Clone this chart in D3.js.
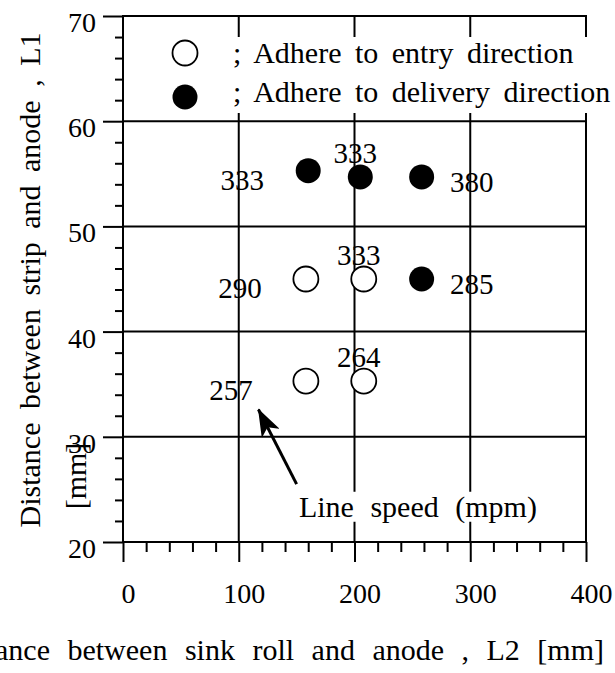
<!DOCTYPE html>
<html>
<head>
<meta charset="utf-8">
<script src="https://cdn.jsdelivr.net/npm/d3@7"></script>
<style>
  body { margin: 0; background: #fff; }
  svg { display: block; font-family: "Liberation Serif", "Times New Roman", serif; }
</style>
</head>
<body>
<svg id="chart" width="615" height="673"></svg>
<script>
// tick values
const xMajor = [0, 100, 200, 300, 400];
const xMinor = [20, 40, 60, 80, 120, 140, 160, 180, 220, 240, 260, 280, 320, 340, 360, 380];
const yMajor = [20, 30, 40, 50, 60, 70];
const yMinor = [22, 24, 26, 28, 32, 34, 36, 38, 42, 44, 46, 48, 52, 54, 56, 58, 62, 64, 66, 68];

// open circles: adhere to entry direction
const openL2 = [158, 208, 158, 208];
const openL1 = [45, 45, 35.3, 35.3];
const openSpeed = [290, 333, 257, 264];
const openSide = ["left", "top", "farleft", "top"];

// filled circles: adhere to delivery direction
const filledL2 = [160, 205, 258, 258];
const filledL1 = [55.3, 54.7, 54.7, 45];
const filledSpeed = [333, 333, 380, 285];
const filledSide = ["left", "top", "right", "right"];

// annotation arrow (data coords)
const arrowFrom = [150, 25.5];
const arrowTo = [117, 32.6];
const arrowTextAt = [152, 22.4];

const svg = d3.select("#chart");

let x = d3.scaleLinear().domain([0, 400]).range([123, 586]);
let y = d3.scaleLinear().domain([20, 70]).range([542, 16]);

// grid lines
svg.append("g").selectAll("line")
    .data([100, 200, 300])
    .join("line")
    .attr("x1", d => x(d)).attr("x2", d => x(d))
    .attr("y1", y(70)).attr("y2", y(20))
    .attr("stroke", "#000").attr("stroke-width", 2);
svg.append("g").selectAll("line")
    .data([30, 40, 50, 60])
    .join("line")
    .attr("x1", x(0)).attr("x2", x(400))
    .attr("y1", d => y(d)).attr("y2", d => y(d))
    .attr("stroke", "#000").attr("stroke-width", 2);

// frame
svg.append("rect")
    .attr("x", x(0)).attr("y", y(70))
    .attr("width", x(400) - x(0)).attr("height", y(20) - y(70))
    .attr("fill", "none").attr("stroke", "#000").attr("stroke-width", 2);

// axes
let yMinorAxis = svg.append("g")
    .attr("transform", `translate(${x(0)},0)`)
    .call(d3.axisLeft(y).tickValues(yMinor).tickSize(8).tickSizeOuter(0).tickFormat(""));
let yAxis = svg.append("g")
    .attr("transform", `translate(${x(0)},0)`)
    .call(d3.axisLeft(y).tickValues(yMajor).tickSize(20).tickSizeOuter(0).tickPadding(7).tickFormat(d3.format("d")));
let xMinorAxis = svg.append("g")
    .attr("transform", `translate(0,${y(20)})`)
    .call(d3.axisBottom(x).tickValues(xMinor).tickSize(10).tickSizeOuter(0).tickFormat(""));
let xAxis = svg.append("g")
    .attr("transform", `translate(0,${y(20)})`)
    .call(d3.axisBottom(x).tickValues(xMajor).tickSize(20).tickSizeOuter(0).tickPadding(21).tickFormat(d3.format("d")));

[yMinorAxis, yAxis, xMinorAxis, xAxis].forEach(a => {
    a.select(".domain").remove();
    a.selectAll("line").attr("stroke", "#000").attr("stroke-width", 2);
    a.selectAll("text")
        .attr("fill", "#000")
        .style("font-family", "Liberation Serif, serif")
        .style("font-size", "28px");
});
yAxis.selectAll("text").attr("dy", "0.55em");
xAxis.selectAll("text").attr("dx", "5");

// axis titles
svg.append("text")
    .attr("transform", "translate(40,280) rotate(-90)")
    .attr("text-anchor", "middle")
    .style("font-size", "30px").style("word-spacing", "6px")
    .text("Distance between strip and anode , L1");
svg.append("text")
    .attr("transform", "translate(86,476) rotate(-90)")
    .attr("text-anchor", "middle")
    .style("font-size", "30px")
    .text("[mm]");
// the reference crops the start of this title at the left edge
svg.append("text")
    .attr("x", 604).attr("y", 660)
    .attr("text-anchor", "end")
    .style("font-size", "30px").style("word-spacing", "10px")
    .text("Distance between sink roll and anode , L2 [mm]");

// legend box covers grid
svg.append("rect")
    .attr("x", 226).attr("y", 37).attr("width", 389).attr("height", 76)
    .attr("fill", "#fff");
svg.append("circle").attr("cx", 185).attr("cy", 53).attr("r", 12.5)
    .attr("fill", "#fff").attr("stroke", "#000").attr("stroke-width", 1.8);
svg.append("circle").attr("cx", 185).attr("cy", 97).attr("r", 12.5)
    .attr("fill", "#000");
svg.append("text").attr("x", 233).attr("y", 63)
    .style("font-size", "30px").style("word-spacing", "6px")
    .text("; Adhere to entry direction");
svg.append("text").attr("x", 233).attr("y", 102)
    .style("font-size", "30px").style("word-spacing", "6px")
    .text("; Adhere to delivery direction");

// speed labels
const labelOffset = {
    left: [-66, 19],
    farleft: [-75, 19],
    top: [-5, -14],
    right: [50, 15]
};

function drawSeries(xs, ys, speeds, sides, filled) {
    let pts = xs.map((d, i) => ({ l2: d, l1: ys[i], speed: speeds[i], side: sides[i] }));
    let g = svg.append("g");
    g.selectAll("circle")
        .data(pts)
        .join("circle")
        .attr("cx", d => x(d.l2))
        .attr("cy", d => y(d.l1))
        .attr("r", 12.5)
        .attr("fill", filled ? "#000" : "#fff")
        .attr("stroke", "#000")
        .attr("stroke-width", filled ? 0 : 1.8);
    g.selectAll("text")
        .data(pts)
        .join("text")
        .attr("x", d => x(d.l2) + labelOffset[d.side][0])
        .attr("y", d => y(d.l1) + labelOffset[d.side][1])
        .attr("text-anchor", "middle")
        .style("font-size", "29px")
        .text(d => d.speed);
}
drawSeries(openL2, openL1, openSpeed, openSide, false);
drawSeries(filledL2, filledL1, filledSpeed, filledSide, true);

// line speed annotation, white box behind it hides the grid
let noteBox = svg.append("rect").attr("fill", "#fff");
let note = svg.append("text")
    .attr("x", x(arrowTextAt[0])).attr("y", y(arrowTextAt[1]))
    .style("font-size", "30px").style("word-spacing", "9px")
    .text("Line speed (mpm)");
let bb = note.node().getBBox();
noteBox
    .attr("x", bb.x - 3).attr("y", bb.y + 2)
    .attr("width", bb.width + 6).attr("height", bb.height - 4);

svg.append("defs").append("marker")
    .attr("id", "head")
    .attr("viewBox", "0 0 28 20")
    .attr("refX", 27).attr("refY", 10)
    .attr("markerWidth", 28).attr("markerHeight", 20)
    .attr("markerUnits", "userSpaceOnUse")
    .attr("orient", "auto")
    .append("path")
    .attr("d", "M0,0 L28,10 L0,20 L7,10 Z")
    .attr("fill", "#000");

svg.append("line")
    .attr("x1", x(arrowFrom[0])).attr("y1", y(arrowFrom[1]))
    .attr("x2", x(arrowTo[0])).attr("y2", y(arrowTo[1]))
    .attr("stroke", "#000").attr("stroke-width", 3)
    .attr("marker-end", "url(#head)");
</script>
</body>
</html>
